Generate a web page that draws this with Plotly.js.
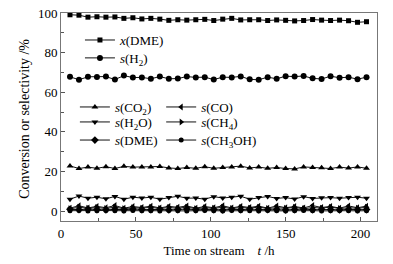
<!DOCTYPE html>
<html>
<head>
<meta charset="utf-8">
<script src="https://cdn.plot.ly/plotly-3.0.1.min.js"></script>
<style>html,body{margin:0;padding:0;background:#fff;}#chart{width:393px;height:264px;}</style>
</head>
<body>
<div id="chart"></div>
<script>
var timeH = [6,12,18,24,30,36,42,48,54,60,66,72,78,84,90,96,102,108,114,120,126,132,138,144,150,156,162,168,174,180,186,192,198,204];
var xDME   = [99.1,98.9,97.9,98.1,97.9,98.0,97.3,97.6,97.0,97.3,96.9,96.3,96.6,96.4,96.6,96.8,96.2,96.9,97.3,96.5,96.6,96.6,96.2,96.5,96.3,96.0,96.2,96.7,96.4,96.2,96.4,96.1,95.3,95.6];
var sH2    = [67.8,66.3,67.8,67.7,67.9,66.4,68.4,67.4,67.5,66.8,67.9,66.8,66.9,67.9,67.5,67.6,66.4,67.6,67.5,68.0,66.5,66.3,67.6,66.8,68.1,67.9,68.2,67.0,66.7,68.1,67.3,67.6,66.6,67.6];
var sCO2   = [22.8,21.5,22.2,21.6,22.4,21.5,22.6,22.2,22.3,22.3,22.5,21.8,21.5,22.0,21.6,22.4,21.6,22.0,22.3,22.7,21.8,22.2,21.6,22.0,21.5,21.3,22.3,22.0,21.9,21.5,22.2,21.7,22.3,21.6];
var sH2O   = [6.0,7.6,6.5,7.0,6.2,7.4,6.0,7.0,6.6,7.0,6.0,6.8,7.5,6.5,6.6,6.0,7.3,6.6,7.0,7.5,6.0,6.8,7.4,6.4,6.8,6.1,7.3,6.4,6.7,6.8,6.5,6.9,7.0,6.5];
var sCO    = [1.5,2.7,1.6,2.4,1.7,2.8,1.5,2.3,1.8,2.5,1.6,2.4,1.9,2.6,1.5,2.3,1.7,2.7,1.6,2.4,1.8,2.5,1.5,2.6,1.7,2.3,1.6,2.8,1.8,2.4,1.5,2.6,1.7,2.5];
var sCH4   = [1.2,1.9,1.4,1.8,1.3,2.0,1.2,1.7,1.5,1.9,1.3,1.8,1.4,2.0,1.2,1.7,1.4,1.9,1.3,1.8,1.5,2.0,1.3,1.7,1.4,1.9,1.2,1.8,1.5,2.0,1.3,1.7,1.4,1.9];
var sDMEs  = [0.9,0.7,1.0,0.8,0.6,0.9,0.7,1.0,0.8,0.7,0.9,0.6,0.8,1.0,0.7,0.9,0.8,0.6,0.9,0.7,1.0,0.8,0.7,0.9,0.6,0.8,1.0,0.7,0.9,0.8,0.6,0.9,0.7,0.8];
var sCH3OH = [0.2,0.3,0.1,0.2,0.3,0.2,0.1,0.3,0.2,0.2,0.1,0.3,0.2,0.1,0.2,0.3,0.2,0.1,0.3,0.2,0.2,0.1,0.3,0.2,0.1,0.2,0.3,0.2,0.1,0.2,0.3,0.2,0.1,0.2];

var seriesNames = ['<i>x</i>(DME)','<i>s</i>(H<sub>2</sub>)','<i>s</i>(CO<sub>2</sub>)','<i>s</i>(H<sub>2</sub>O)','<i>s</i>(DME)','<i>s</i>(CO)','<i>s</i>(CH<sub>4</sub>)','<i>s</i>(CH<sub>3</sub>OH)'];
var seriesData = [xDME, sH2, sCO2, sH2O, sDMEs, sCO, sCH4, sCH3OH];
var symbols = ['square','circle','triangle-up','triangle-down','diamond','triangle-left','triangle-right','circle'];
var sizes = [5,6,6,6,6,6,6,5];
var legendIds = ['legend','legend2','legend3','legend4','legend5','legend6','legend7','legend8'];
var legendPos = [[0.060,0.870],[0.060,0.784],[0.044,0.548],[0.044,0.476],[0.044,0.389],[0.317,0.548],[0.317,0.476],[0.317,0.389]];
var yTitle = 'Conversion or selectivity /%';

var serif = '"Liberation Serif","Times New Roman",serif';
var traces = seriesData.map(function(d,i){
  return {x: timeH, y: d, type:'scatter', mode:'lines+markers', name: seriesNames[i],
    legend: legendIds[i],
    line:{color:'#111', width:1},
    marker:{symbol:symbols[i], size:sizes[i], color:'#000'}};
});

var layout = {
  width:393, height:264,
  margin:{l:61,r:16,t:13,b:43},
  paper_bgcolor:'#fff', plot_bgcolor:'#fff',
  font:{family:serif, size:13, color:'#000'},
  showlegend:true,
  xaxis:{range:[0,211], tickvals:[0,50,100,150,200], ticks:'inside', ticklen:4, tickcolor:'#555',
    minor:{tickvals:[25,75,125,175], ticks:'inside', ticklen:3, tickcolor:'#555'},
    showgrid:false, zeroline:false, showline:true, linecolor:'#777', linewidth:1, mirror:true,
    tickfont:{family:serif,size:13},
    title:{text:'Time on stream    <i>t</i> /h', font:{family:serif,size:13}, standoff:6}},
  yaxis:{range:[-5,100], tickvals:[0,20,40,60,80,100], ticks:'inside', ticklen:4, tickcolor:'#555',
    minor:{tickvals:[10,30,50,70,90], ticks:'inside', ticklen:3, tickcolor:'#555'},
    showgrid:false, zeroline:false, showline:true, linecolor:'#777', linewidth:1, mirror:true,
    tickfont:{family:serif,size:13}},
  annotations:[{text:yTitle, xref:'paper', yref:'paper', x:-0.118, y:0.49, xanchor:'center', yanchor:'middle',
    textangle:-90, showarrow:false, font:{family:serif,size:14}}]
};
legendIds.forEach(function(id,i){
  layout[id] = {x:legendPos[i][0], y:legendPos[i][1], xanchor:'left', yanchor:'middle',
    bgcolor:'rgba(0,0,0,0)', borderwidth:0, font:{family:serif,size:13}};
});

Plotly.newPlot('chart', traces, layout, {staticPlot:true, displayModeBar:false});
</script>
</body>
</html>
